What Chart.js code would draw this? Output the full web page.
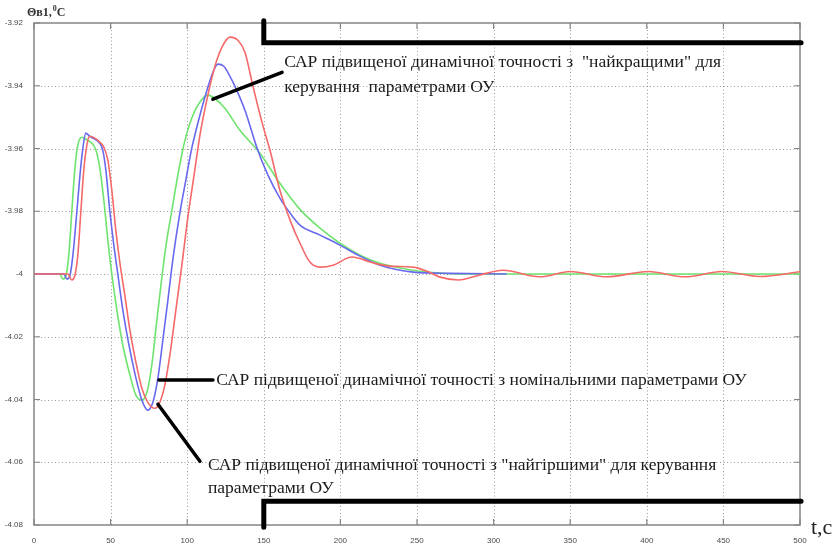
<!DOCTYPE html>
<html>
<head>
<meta charset="utf-8">
<script src="https://cdn.jsdelivr.net/npm/chart.js@4"></script>
<style>
  html, body { margin: 0; padding: 0; background: #ffffff; overflow: hidden; }
  canvas { display: block; }
</style>
</head>
<body>
<canvas id="c" width="835" height="547"></canvas>
<script>
// Axis ticks
const xTickValues = [0, 50, 100, 150, 200, 250, 300, 350, 400, 450, 500];
const xTickLabels = ['0', '50', '100', '150', '200', '250', '300', '350', '400', '450', '500'];
const yTickValues = [-3.92, -3.94, -3.96, -3.98, -4, -4.02, -4.04, -4.06, -4.08];
const yTickLabels = ['-3.92', '-3.94', '-3.96', '-3.98', '-4', '-4.02', '-4.04', '-4.06', '-4.08'];

const seriesNames = [
  'САР з "найкращими" для керування параметрами ОУ',
  'САР з номінальними параметрами ОУ',
  'САР з "найгіршими" для керування параметрами ОУ'
];

// "Best" plant parameters (green)
const timeBest = [0, 16.9, 18.8, 20.8, 22.7, 24.7, 26.6, 28.6, 31.2, 35.1, 37.8, 40.4, 43.0, 45.6, 48.2, 50.8,
  54.1, 58.0, 62.6, 66.5, 70.4, 73.7, 76.9, 80.2, 83.4, 86.7, 90.0, 93.9, 97.8, 103.0, 108.3, 113.5, 118.7,
  124.6, 134.4, 147.5, 160.5, 173.6, 186.7, 199.7, 212.8, 225.9, 239.0, 252.0, 265.0, 278.1, 500];
const tempBest = [-4.0000, -4.0000, -4.0016, -4.0006, -3.9940, -3.9800, -3.9669, -3.9589, -3.9564, -3.9574,
  -3.9583, -3.9605, -3.9663, -3.9765, -3.9892, -4.0000, -4.0115, -4.0227, -4.0322, -4.0386, -4.0402, -4.0377,
  -4.0290, -4.0147, -4.0013, -3.9892, -3.9797, -3.9685, -3.9589, -3.9503, -3.9452, -3.9430, -3.9443, -3.9472,
  -3.9542, -3.9615, -3.9711, -3.9794, -3.9854, -3.9902, -3.9940, -3.9966, -3.9981, -3.9991, -3.9997, -4.0000,
  -4.0000];

// Nominal plant parameters (blue)
const timeNominal = [0, 19.6, 21.4, 23.4, 25.4, 28.0, 30.0, 31.9, 33.8, 36.4, 39.7, 42.3, 44.9, 46.9, 49.5,
  52.1, 54.7, 58.0, 62.0, 66.5, 70.4, 74.3, 77.6, 80.9, 84.1, 87.4, 90.6, 95.2, 99.1, 103.0, 108.3, 112.9,
  116.8, 120.0, 123.9, 127.9, 131.1, 137.7, 145.6, 152.7, 160.5, 167.2, 173.6, 186.7, 199.7, 212.8, 225.9,
  247.4, 271.6, 308.5];
const tempNominal = [-4.0000, -4.0000, -4.0016, -4.0006, -3.9940, -3.9800, -3.9685, -3.9599, -3.9551, -3.9561,
  -3.9570, -3.9580, -3.9605, -3.9669, -3.9800, -3.9908, -4.0000, -4.0115, -4.0227, -4.0331, -4.0402, -4.0434,
  -4.0409, -4.0331, -4.0211, -4.0083, -3.9955, -3.9806, -3.9701, -3.9599, -3.9494, -3.9414, -3.9357, -3.9331,
  -3.9338, -3.9370, -3.9401, -3.9478, -3.9599, -3.9685, -3.9758, -3.9806, -3.9844, -3.9876, -3.9908, -3.9943,
  -3.9972, -3.9994, -3.9998, -4.0000];

// "Worst" plant parameters (red)
const timeWorst = [0, 22.1, 24.7, 26.6, 28.6, 30.6, 32.5, 34.5, 36.4, 39.7, 43.0, 45.6, 48.2, 50.8, 53.4, 56.0,
  59.3, 62.6, 66.5, 70.4, 74.3, 78.9, 82.1, 85.4, 88.7, 92.6, 96.5, 100.6, 104.5, 108.3, 113.5, 118.1, 122.7,
  127.9, 133.1, 137.7, 142.9, 148.8, 154.0, 160.5, 167.2, 173.6, 180.1, 186.7, 195.2, 207.6, 219.4, 232.4,
  247.4, 256.5, 265.1, 277.0, 291.2, 306, 330, 350, 374, 401, 425, 449, 474, 500];
const tempWorst = [-4.0000, -4.0000, -4.0019, -4.0006, -3.9940, -3.9800, -3.9669, -3.9589, -3.9561, -3.9567,
  -3.9580, -3.9596, -3.9637, -3.9733, -3.9860, -3.9962, -4.0068, -4.0179, -4.0281, -4.0364, -4.0409, -4.0428,
  -4.0409, -4.0354, -4.0258, -4.0115, -3.9972, -3.9813, -3.9685, -3.9558, -3.9430, -3.9338, -3.9277, -3.9245,
  -3.9255, -3.9293, -3.9401, -3.9516, -3.9605, -3.9733, -3.9829, -3.9902, -3.9962, -3.9978, -3.9972, -3.9946,
  -3.9962, -3.9975, -3.9978, -3.9991, -4.0010, -4.0019, -4.0003, -3.9988, -4.0009, -3.9992, -4.0009, -3.9992,
  -4.0009, -3.9992, -4.0008, -3.9993];

// Heavy black brackets along the top and bottom
const bracketTopTime = [150, 150, 500.7];
const bracketTopTemp = [-3.9193, -3.9263, -3.9263];
const bracketBottomTime = [150, 150, 500.7];
const bracketBottomTemp = [-4.0807, -4.0724, -4.0724];

// Leader lines from the captions to the curves
const leaderBestTime = [116.8, 161.9];
const leaderBestTemp = [-3.9443, -3.9357];
const leaderNominalTime = [81.5, 116.8];
const leaderNominalTemp = [-4.0338, -4.0338];
const leaderWorstTime = [80.9, 108.3];
const leaderWorstTemp = [-4.0415, -4.0597];

// Captions (anchor time, anchor temperature, text)
const captionTime = [163.3, 163.3, 118.9, 113.5, 113.5];
const captionTemp = [-3.9325, -3.9405, -4.0338, -4.0609, -4.0683];
const captionText = [
  'САР підвищеної динамічної точності з  "найкращими" для',
  'керування  параметрами ОУ',
  'САР підвищеної динамічної точності з номінальними параметрами ОУ',
  'САР підвищеної динамічної точності з "найгіршими" для керування',
  'параметрами ОУ'
];

const toPoints = (ts, vs) => ts.map((t, i) => ({ x: t, y: vs[i] }));

const curve = (label, ts, vs, color, order) => ({
  label, data: toPoints(ts, vs), borderColor: color, borderWidth: 1.6,
  pointRadius: 0, fill: false, cubicInterpolationMode: 'monotone', order
});
const stroke = (label, ts, vs, width) => ({
  label, data: toPoints(ts, vs), borderColor: '#000000', borderWidth: width,
  pointRadius: 0, fill: false, tension: 0, borderCapStyle: 'round', borderJoinStyle: 'miter',
  clip: false, order: 0
});

// Plot frame, dotted grid and inward tick marks
const framePlugin = {
  id: 'frame',
  beforeDatasetsDraw(chart) {
    const { ctx, chartArea: a, scales: { x, y } } = chart;
    ctx.save();
    ctx.strokeStyle = 'rgba(110,110,110,0.7)';
    ctx.lineWidth = 1;
    ctx.setLineDash([1, 2.5]);
    xTickValues.slice(1, -1).forEach(v => {
      const px = Math.round(x.getPixelForValue(v)) + 0.5;
      ctx.beginPath(); ctx.moveTo(px, a.top); ctx.lineTo(px, a.bottom); ctx.stroke();
    });
    yTickValues.slice(1, -1).forEach(v => {
      const py = Math.round(y.getPixelForValue(v)) + 0.5;
      ctx.beginPath(); ctx.moveTo(a.left, py); ctx.lineTo(a.right, py); ctx.stroke();
    });
    ctx.setLineDash([]);
    ctx.strokeStyle = '#858585';
    ctx.lineWidth = 1.5;
    ctx.strokeRect(a.left, a.top, a.right - a.left, a.bottom - a.top);
    ctx.lineWidth = 1.2;
    const tl = 6;
    xTickValues.forEach(v => {
      const px = x.getPixelForValue(v);
      ctx.beginPath();
      ctx.moveTo(px, a.bottom); ctx.lineTo(px, a.bottom - tl);
      ctx.moveTo(px, a.top); ctx.lineTo(px, a.top + tl);
      ctx.stroke();
    });
    yTickValues.forEach(v => {
      const py = y.getPixelForValue(v);
      ctx.beginPath();
      ctx.moveTo(a.left, py); ctx.lineTo(a.left + tl, py);
      ctx.moveTo(a.right, py); ctx.lineTo(a.right - tl, py);
      ctx.stroke();
    });
    ctx.restore();
  },
  afterDatasetsDraw(chart) {
    const { ctx, chartArea: a, scales: { x, y } } = chart;
    ctx.save();
    ctx.fillStyle = '#1a1a1a';
    ctx.textBaseline = 'middle';
    ctx.textAlign = 'left';
    ctx.font = '17.5px "Liberation Serif", "Times New Roman", serif';
    captionText.forEach((txt, i) => {
      ctx.fillText(txt, x.getPixelForValue(captionTime[i]), y.getPixelForValue(captionTemp[i]));
    });
    // axis names
    ctx.fillStyle = '#333333';
    ctx.font = 'bold 12px "Liberation Serif", serif';
    const base = 'Θв1,';
    const lx = a.left - 7, ly = a.top - 10;
    ctx.fillText(base, lx, ly);
    const w = ctx.measureText(base).width;
    ctx.font = 'bold 8px "Liberation Serif", serif';
    ctx.fillText('0', lx + w + 1, ly - 4);
    const w0 = ctx.measureText('0').width;
    ctx.font = 'bold 12px "Liberation Serif", serif';
    ctx.fillText('С', lx + w + 1 + w0, ly);
    ctx.fillStyle = '#222222';
    ctx.font = '22px "Liberation Serif", serif';
    ctx.fillText('t,c', a.right + 11, a.bottom + 3);
    ctx.restore();
  }
};

new Chart(document.getElementById('c'), {
  type: 'line',
  data: {
    datasets: [
      curve(seriesNames[0], timeBest, tempBest, 'rgb(110,228,110)', 3),
      curve(seriesNames[1], timeNominal, tempNominal, 'rgb(105,105,240)', 2),
      curve(seriesNames[2], timeWorst, tempWorst, 'rgb(245,105,105)', 1),
      stroke('top', bracketTopTime, bracketTopTemp, 5),
      stroke('bottom', bracketBottomTime, bracketBottomTemp, 5),
      stroke('leader1', leaderBestTime, leaderBestTemp, 3.5),
      stroke('leader2', leaderNominalTime, leaderNominalTemp, 3.5),
      stroke('leader3', leaderWorstTime, leaderWorstTemp, 3.5)
    ]
  },
  options: {
    responsive: false,
    animation: false,
    devicePixelRatio: 1,
    layout: { padding: { top: 23, right: 35, left: 0, bottom: 0 } },
    plugins: { legend: { display: false }, tooltip: { enabled: false }, title: { display: false } },
    scales: {
      x: {
        type: 'linear', min: 0, max: 500,
        afterBuildTicks: s => { s.ticks = xTickValues.map(v => ({ value: v })); },
        afterFit: s => { s.height = 22; },
        grid: { display: false }, border: { display: false },
        ticks: {
          autoSkip: false, maxRotation: 0, minRotation: 0, padding: 3,
          color: '#4a4a4a', font: { family: 'Liberation Sans', size: 8 },
          callback: (v, i) => xTickLabels[i]
        }
      },
      y: {
        type: 'linear', min: -4.08, max: -3.92,
        afterBuildTicks: s => { s.ticks = yTickValues.map(v => ({ value: v })); },
        afterFit: s => { s.width = 34; },
        grid: { display: false }, border: { display: false },
        ticks: {
          autoSkip: false, padding: 3,
          color: '#4a4a4a', font: { family: 'Liberation Sans', size: 8 },
          callback: (v, i) => yTickLabels[i]
        }
      }
    }
  },
  plugins: [framePlugin]
});
</script>
</body>
</html>
